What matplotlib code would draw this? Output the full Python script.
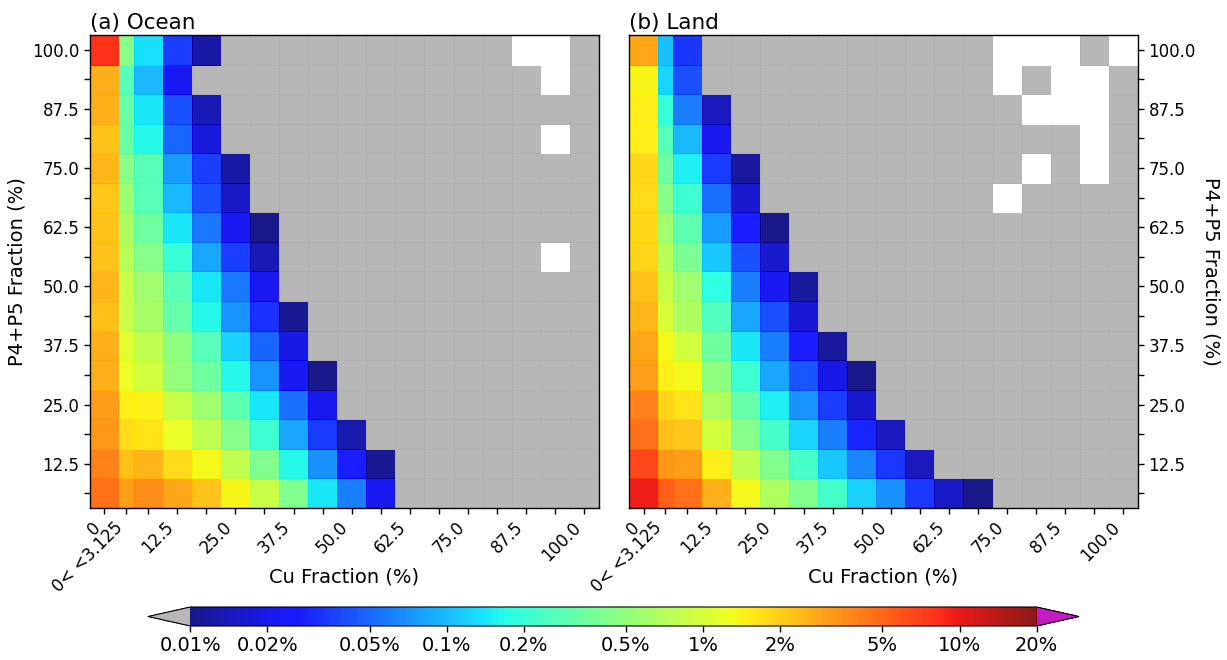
import numpy as np
import matplotlib
matplotlib.use('Agg')
import matplotlib.pyplot as plt
from matplotlib.colors import LogNorm

N = np.nan

# frequency (%) per bin, rows from P4+P5 = 100 (top) down to 6.25 (bottom)
# columns: Cu = 0, 0<Cu<3.125, 6.25, 12.5, ... 100
# 0 -> below colour range (grey), nan -> no data (white)
ocean = [
    [8.0, 0.46, 0.134, 0.035, 0.0122, 0, 0, 0, 0, 0, 0, 0, 0, 0, 0, N, N, 0],
    [2.6, 0.27, 0.096, 0.022, 0, 0, 0, 0, 0, 0, 0, 0, 0, 0, 0, 0, N, 0],
    [2.6, 0.33, 0.143, 0.041, 0.0138, 0, 0, 0, 0, 0, 0, 0, 0, 0, 0, 0, 0, 0],
    [2.2, 0.33, 0.167, 0.049, 0.0185, 0, 0, 0, 0, 0, 0, 0, 0, 0, 0, 0, N, 0],
    [2.45, 0.46, 0.27, 0.076, 0.035, 0.0122, 0, 0, 0, 0, 0, 0, 0, 0, 0, 0, 0, 0],
    [2.1, 0.55, 0.27, 0.096, 0.041, 0.0154, 0, 0, 0, 0, 0, 0, 0, 0, 0, 0, 0, 0],
    [2.2, 0.65, 0.35, 0.143, 0.056, 0.0213, 0.0102, 0, 0, 0, 0, 0, 0, 0, 0, 0, 0, 0],
    [2.2, 0.73, 0.44, 0.195, 0.083, 0.035, 0.0138, 0, 0, 0, 0, 0, 0, 0, 0, 0, N, 0],
    [2.45, 0.86, 0.57, 0.28, 0.143, 0.056, 0.0213, 0, 0, 0, 0, 0, 0, 0, 0, 0, 0, 0],
    [2.25, 0.86, 0.62, 0.32, 0.165, 0.072, 0.031, 0.0109, 0, 0, 0, 0, 0, 0, 0, 0, 0, 0],
    [2.65, 1.12, 0.80, 0.48, 0.27, 0.118, 0.049, 0.0195, 0, 0, 0, 0, 0, 0, 0, 0, 0, 0],
    [2.65, 1.2, 0.94, 0.51, 0.35, 0.165, 0.072, 0.0213, 0.0102, 0, 0, 0, 0, 0, 0, 0, 0, 0],
    [3.15, 1.5, 1.43, 0.86, 0.57, 0.29, 0.143, 0.053, 0.0206, 0, 0, 0, 0, 0, 0, 0, 0, 0],
    [3.25, 1.8, 1.65, 1.2, 0.80, 0.44, 0.21, 0.083, 0.034, 0.013, 0, 0, 0, 0, 0, 0, 0, 0],
    [3.95, 2.25, 2.45, 1.8, 1.37, 0.80, 0.41, 0.165, 0.069, 0.027, 0.0109, 0, 0, 0, 0, 0, 0, 0],
    [4.6, 3.05, 3.5, 2.85, 2.2, 1.4, 0.86, 0.41, 0.143, 0.06, 0.0213, 0, 0, 0, 0, 0, 0, 0],
]

land = [
    [2.85, 0.103, 0.033, 0, 0, 0, 0, 0, 0, 0, 0, 0, 0, N, N, N, 0, N],
    [1.4, 0.123, 0.041, 0, 0, 0, 0, 0, 0, 0, 0, 0, 0, N, 0, N, N, 0],
    [1.5, 0.195, 0.06, 0.0146, 0, 0, 0, 0, 0, 0, 0, 0, 0, 0, N, N, N, 0],
    [1.5, 0.27, 0.096, 0.0206, 0, 0, 0, 0, 0, 0, 0, 0, 0, 0, 0, 0, N, 0],
    [1.85, 0.35, 0.152, 0.034, 0.0115, 0, 0, 0, 0, 0, 0, 0, 0, 0, N, 0, N, 0],
    [1.8, 0.44, 0.21, 0.053, 0.0165, 0, 0, 0, 0, 0, 0, 0, 0, N, 0, 0, 0, 0],
    [1.85, 0.57, 0.29, 0.076, 0.027, 0.0102, 0, 0, 0, 0, 0, 0, 0, 0, 0, 0, 0, 0],
    [1.9, 0.73, 0.40, 0.109, 0.041, 0.0165, 0, 0, 0, 0, 0, 0, 0, 0, 0, 0, 0, 0],
    [2.25, 0.86, 0.57, 0.18, 0.06, 0.0213, 0.0115, 0, 0, 0, 0, 0, 0, 0, 0, 0, 0, 0],
    [2.45, 1.0, 0.67, 0.26, 0.083, 0.041, 0.0174, 0, 0, 0, 0, 0, 0, 0, 0, 0, 0, 0],
    [2.85, 1.37, 0.94, 0.35, 0.143, 0.06, 0.027, 0.0115, 0, 0, 0, 0, 0, 0, 0, 0, 0, 0],
    [3.05, 1.5, 1.37, 0.48, 0.21, 0.083, 0.044, 0.0195, 0.0101, 0, 0, 0, 0, 0, 0, 0, 0, 0],
    [3.95, 1.9, 1.65, 0.67, 0.32, 0.152, 0.072, 0.035, 0.0165, 0, 0, 0, 0, 0, 0, 0, 0, 0],
    [4.6, 2.25, 2.1, 0.94, 0.44, 0.23, 0.123, 0.06, 0.029, 0.0146, 0, 0, 0, 0, 0, 0, 0, 0],
    [6.5, 3.25, 3.05, 1.5, 0.80, 0.41, 0.23, 0.109, 0.064, 0.033, 0.0146, 0, 0, 0, 0, 0, 0, 0],
    [9.8, 5.4, 4.6, 2.65, 1.37, 0.67, 0.41, 0.23, 0.118, 0.069, 0.033, 0.0154, 0.0101, 0, 0, 0, 0, 0],
]

# bin edges (%)
cu_edges = [-6.25, 0, 3.125] + [3.125 + 6.25 * k for k in range(1, 17)]
p45_edges = [3.125 + 6.25 * k for k in range(17)]
cu_labels = ['0', '0< <3.125', ''] + [('%.1f' % (6.25 * k) if k % 2 == 0 else '') for k in range(2, 17)]
cb_ticks = [0.01, 0.02, 0.05, 0.1, 0.2, 0.5, 1, 2, 5, 10, 20]

cmap = plt.get_cmap('jet').copy()
cmap.set_under('#b0b0b0')
cmap.set_over('#bf00bf')
cmap.set_bad('white')
norm = LogNorm(vmin=0.01, vmax=20)

xc = [(a + b) / 2 for a, b in zip(cu_edges[:-1], cu_edges[1:])]
yc = [(a + b) / 2 for a, b in zip(p45_edges[:-1], p45_edges[1:])]

fig = plt.figure(figsize=(12.27, 6.6), dpi=100)
ax1 = fig.add_axes([0.0733, 0.2303, 0.4149, 0.7167])
ax2 = fig.add_axes([0.5126, 0.2303, 0.4149, 0.7167])
cax = fig.add_axes([0.1206, 0.0515, 0.7588, 0.0288])

for ax, data, title in [(ax1, ocean, '(a) Ocean'), (ax2, land, '(b) Land')]:
    vals = np.array(data, dtype=float)[::-1]
    vals = np.where(vals == 0, 1e-4, vals)
    vals = np.ma.masked_invalid(vals)
    mesh = ax.pcolormesh(cu_edges, p45_edges, vals, cmap=cmap, norm=norm,
                         alpha=0.9, edgecolors='face', linewidth=0.4)
    ax.set_xlim(cu_edges[0], cu_edges[-1])
    ax.set_ylim(p45_edges[0], p45_edges[-1])
    ax.set_xticks(xc)
    ax.set_xticklabels(cu_labels, rotation=45, ha='right', fontsize=12)
    ax.set_yticks(yc)
    ax.set_yticklabels([('%.1f' % y if i % 2 == 1 else '') for i, y in enumerate(yc)], fontsize=12)
    ax.tick_params(length=4, width=1)
    ax.set_xlabel('Cu Fraction (%)', fontsize=14)
    ax.xaxis.set_label_coords(0.5, -0.125)
    ax.set_ylabel('P4+P5 Fraction (%)', fontsize=14)
    ax.set_title(title, loc='left', fontsize=15.5, pad=4)
    for s in ax.spines.values():
        s.set_linewidth(1)

ax2.yaxis.tick_right()
ax2.yaxis.set_label_position('right')
ax2.set_ylabel('P4+P5 Fraction (%)', fontsize=14, rotation=270, labelpad=18)

cb = fig.colorbar(mesh, cax=cax, orientation='horizontal', extend='both')
cb.set_ticks(cb_ticks)
cb.set_ticklabels(['%g%%' % t for t in cb_ticks])
cb.ax.tick_params(labelsize=14, length=4, width=1)
cb.ax.minorticks_off()

fig.savefig('out.png', dpi=100)
